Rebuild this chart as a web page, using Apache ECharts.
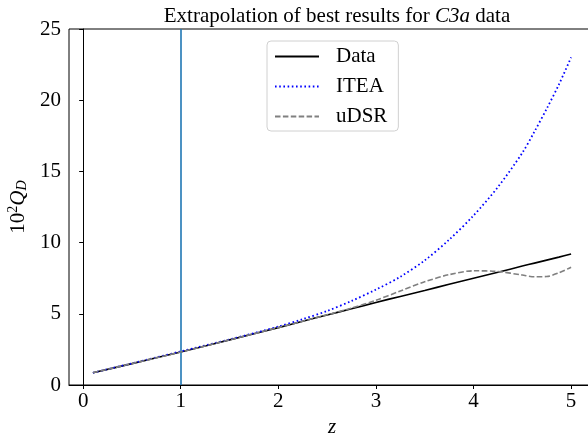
<!DOCTYPE html>
<html>
<head>
<meta charset="utf-8">
<script src="https://cdn.jsdelivr.net/npm/echarts@6/dist/echarts.min.js"></script>
<style>
  html, body { margin: 0; padding: 0; overflow: hidden; background: #fff; }
  #main { width: 596px; height: 436px; }
</style>
</head>
<body>
<div id="main"></div>
<script>
// values
var z     = [0.1, 0.5, 1.0, 1.5, 2.0, 2.25, 2.5, 2.75, 3.0, 3.25, 3.5, 3.75, 4.0, 4.25, 4.5, 4.625, 4.75, 4.875, 5.0];
var data  = [0.86, 1.5, 2.32, 3.17, 4.03, 4.48, 4.92, 5.35, 5.8, 6.22, 6.64, 7.07, 7.5, 7.92, 8.35, 8.56, 8.77, 8.98, 9.2];
var itea  = [0.86, 1.52, 2.36, 3.2, 4.1, 4.62, 5.2, 5.9, 6.7, 7.6, 8.75, 10.2, 11.9, 13.9, 16.3, 17.8, 19.4, 21.1, 23.0];
var udsr  = [0.86, 1.5, 2.32, 3.17, 4.03, 4.48, 4.93, 5.4, 5.95, 6.6, 7.25, 7.75, 8.02, 7.97, 7.72, 7.6, 7.62, 7.88, 8.27];
var xTicks = [0, 1, 2, 3, 4, 5];
var vline = 1;

function pairs(ys) {
	var out = [];
	for (var i = 0; i < z.length; i++) out.push([z[i], ys[i]]);
	return out;
}

var font = 'Liberation Serif';
var fs = 21;
var myChart = echarts.init(document.getElementById('main'));

var option = {
	animation: false,
	textStyle: { fontFamily: font },
	title: {
		text: '{n|Extrapolation of best results for }{i|C3a}{n| data}',
		left: 332,
		textAlign: 'center',
		top: 1,
		textStyle: {
			fontWeight: 'normal',
			rich: {
				n: { fontFamily: font, fontSize: fs, fontWeight: 'normal', color: '#000' },
				i: { fontFamily: font, fontSize: fs, fontWeight: 'normal', fontStyle: 'italic', color: '#000' }
			}
		}
	},
	legend: {
		data: ['Data', 'ITEA', 'uDSR'],
		orient: 'vertical',
		left: 267,
		top: 41,
		itemWidth: 44,
		itemHeight: 12,
		itemGap: 9,
		padding: [5, 11, 4, 7],
		borderColor: '#d0d0d0',
		borderWidth: 1,
		borderRadius: 4,
		backgroundColor: 'rgba(255,255,255,0.8)',
		itemStyle: { opacity: 0 },
		textStyle: { fontFamily: font, fontSize: fs, color: '#000', padding: [0, 0, 0, 12] }
	},
	grid: {
		left: 69,
		top: 29,
		right: 1,
		bottom: 51,
		outerBoundsMode: 'none',
		show: true,
		borderColor: '#000',
		borderWidth: 1
	},
	xAxis: {
		type: 'value',
		min: -0.145,
		max: 5.245,
		name: 'z',
		nameLocation: 'middle',
		nameGap: 30,
		nameTextStyle: { fontFamily: font, fontSize: fs, fontStyle: 'italic', color: '#000' },
		splitLine: { show: false },
		axisLine: { lineStyle: { color: '#000', width: 1 } },
		axisTick: { customValues: xTicks, length: 4, lineStyle: { color: '#000' } },
		axisLabel: { customValues: xTicks, fontFamily: font, fontSize: fs, color: '#000', margin: 6 }
	},
	yAxis: {
		type: 'value',
		min: 0,
		max: 25,
		interval: 5,
		name: '{n|10}{s|2}{i|Q}{d|D}',
		nameLocation: 'middle',
		nameGap: 38,
		nameRotate: 90,
		nameTextStyle: {
			rich: {
				n: { fontFamily: font, fontSize: fs, color: '#000' },
				s: { fontFamily: font, fontSize: 14, color: '#000', padding: [0, 0, 10, 0] },
				i: { fontFamily: font, fontSize: fs, fontStyle: 'italic', color: '#000' },
				d: { fontFamily: font, fontSize: 14, fontStyle: 'italic', color: '#000', padding: [7, 0, 0, 0] }
			}
		},
		splitLine: { show: false },
		axisLine: { show: true, lineStyle: { color: '#000', width: 1 } },
		axisTick: { show: true, length: 4, lineStyle: { color: '#000' } },
		axisLabel: { fontFamily: font, fontSize: fs, color: '#000', margin: 8 }
	},
	series: [{
		name: 'Data',
		type: 'line',
		symbol: 'none',
		smooth: 0.3,
		data: pairs(data),
		lineStyle: { color: '#000', width: 1.6 },
		itemStyle: { color: '#000' },
		markLine: {
			silent: true,
			symbol: 'none',
			label: { show: false },
			lineStyle: { color: '#1f77b4', width: 1.6, type: 'solid' },
			data: [{ xAxis: vline }]
		},
		z: 3
	}, {
		name: 'ITEA',
		type: 'line',
		symbol: 'none',
		smooth: 0.3,
		data: pairs(itea),
		lineStyle: { color: '#0000ff', width: 1.8, type: [1.6, 2.6], cap: 'butt' },
		itemStyle: { color: '#0000ff' },
		z: 4
	}, {
		name: 'uDSR',
		type: 'line',
		symbol: 'none',
		smooth: 0.3,
		data: pairs(udsr),
		lineStyle: { color: '#808080', width: 1.6, type: [5.5, 2.4] },
		itemStyle: { color: '#808080' },
		z: 5
	}]
};
myChart.setOption(option);
</script>
</body>
</html>
